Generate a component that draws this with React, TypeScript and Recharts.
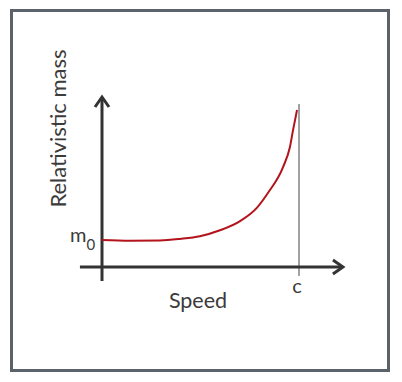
import { LineChart, Line, XAxis, YAxis, ReferenceLine } from 'recharts';

// speed as a fraction of c, mass in units of m0
const speed = [0, 0.142, 0.294, 0.396, 0.497, 0.599, 0.701, 0.787, 0.843, 0.919, 0.954, 0.97, 0.99];
const mass = [1.0, 0.97, 0.98, 1.04, 1.14, 1.36, 1.7, 2.2, 2.75, 3.7, 4.45, 5.08, 5.82];

const xTicks = [1];
const yTicks = [1];

const data = speed.map((s, i) => ({ speed: s, mass: mass[i] }));

const FONT = 'Lato, "Open Sans", sans-serif';
const TEXT = '#3b3b3b';
const AXIS = '#333333';

// axis line with an open arrowhead at its far end
function ArrowLine(props: any) {
  const { x1, y1, x2, y2 } = props;
  const dx = x2 - x1;
  const dy = y2 - y1;
  const len = Math.sqrt(dx * dx + dy * dy) || 1;
  const ux = dx / len;
  const uy = dy / len;
  const back = 10;
  const side = 7;
  const p1 = `${x2 - ux * back - uy * side},${y2 - uy * back + ux * side}`;
  const p2 = `${x2 - ux * back + uy * side},${y2 - uy * back - ux * side}`;
  return (
    <g>
      <line x1={x1} y1={y1} x2={x2 - ux * 1.5} y2={y2 - uy * 1.5} stroke={AXIS} strokeWidth={3} />
      <polyline
        points={`${p1} ${x2},${y2} ${p2}`}
        fill="none"
        stroke={AXIS}
        strokeWidth={3}
        strokeLinejoin="miter"
      />
    </g>
  );
}

const MassTick = ({ y }: any) => (
  <text x={70} y={y + 2} fill={TEXT} fontFamily={FONT} fontSize={20}>
    m
    <tspan dy={8} fontSize={15}>0</tspan>
  </text>
);

const SpeedTick = ({ x }: any) => (
  <text x={x - 2} y={293} fill={TEXT} fontFamily={FONT} fontSize={20} textAnchor="middle">
    c
  </text>
);

export default function App() {
  return (
    <div style={{ position: 'absolute', left: 0, top: 0, width: 402, height: 382, background: '#fff' }}>
      <div
        style={{
          position: 'absolute',
          left: 10,
          top: 9,
          width: 380,
          height: 363,
          boxSizing: 'border-box',
          border: '3px solid #5c6269',
        }}
      />
      <div style={{ position: 'absolute', left: 0, top: 0 }}>
        <LineChart width={402} height={382} data={data} margin={{ top: 97, right: 103, bottom: 75, left: 62 }}>
          <XAxis
            dataKey="speed"
            type="number"
            domain={[0, 1]}
            ticks={xTicks}
            axisLine={false}
            tickLine={false}
            height={40}
            tick={<SpeedTick />}
            label={{
              content: () => (
                <text x={198} y={308} fill={TEXT} fontFamily={FONT} fontSize={21.5} textAnchor="middle">
                  Speed
                </text>
              ),
            }}
          />
          <YAxis
            type="number"
            domain={[0, 6.3]}
            ticks={yTicks}
            axisLine={false}
            tickLine={false}
            width={40}
            tick={<MassTick />}
            label={{
              content: () => (
                <text
                  transform="translate(66,128.5) rotate(-90)"
                  fill={TEXT}
                  fontFamily={FONT}
                  fontSize={22}
                  textAnchor="middle"
                >
                  Relativistic mass
                </text>
              ),
            }}
          />
          <ReferenceLine
            segment={[{ x: 1, y: -0.33 }, { x: 1, y: 6.04 }]}
            ifOverflow="visible"
            stroke="#444"
            strokeWidth={1}
          />
          <ReferenceLine
            segment={[{ x: -0.112, y: 0 }, { x: 1.223, y: 0 }]}
            ifOverflow="visible"
            shape={ArrowLine}
          />
          <ReferenceLine
            segment={[{ x: 0, y: -0.52 }, { x: 0, y: 6.3 }]}
            ifOverflow="visible"
            shape={ArrowLine}
          />
          <Line
            dataKey="mass"
            type="monotone"
            stroke="#b3141c"
            strokeWidth={2}
            dot={false}
            isAnimationActive={false}
          />
        </LineChart>
      </div>
    </div>
  );
}
